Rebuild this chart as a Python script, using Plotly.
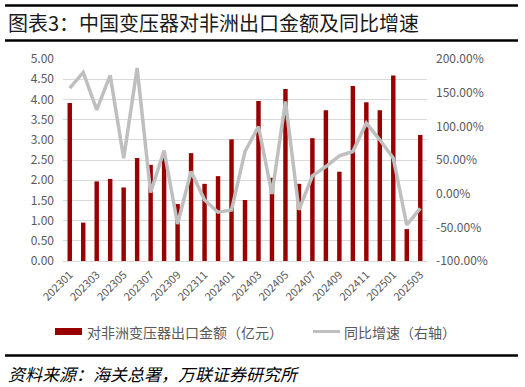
import plotly.graph_objects as go

months = ["202301","202302","202303","202304","202305","202306","202307","202308","202309",
          "202310","202311","202312","202401","202402","202403","202404","202405","202406",
          "202407","202408","202409","202410","202411","202412","202501","202502","202503"]
export_value = [3.91, 0.95, 1.97, 2.03, 1.82, 2.55, 2.38, 2.55, 1.41,
                2.67, 1.91, 2.10, 3.01, 1.51, 3.96, 2.06, 4.26, 1.91,
                3.04, 3.73, 2.21, 4.33, 3.93, 3.73, 4.59, 0.79, 3.12]
yoy_pct = [156.9, 180.2, 124.6, 175.7, 52.7, 186.6, 1.6, 64.1, -45.0,
           32.9, -9.3, -27.6, -24.1, 62.6, 99.8, -0.4, 137.0, -24.1,
           26.4, 40.3, 56.2, 62.6, 104.8, 80.0, 52.7, -46.5, -21.7]
left_ticks = [0, 0.5, 1, 1.5, 2, 2.5, 3, 3.5, 4, 4.5, 5]
right_ticks = [-100, -50, 0, 50, 100, 150, 200]
x_ticks = months[::2]
bar_name = "对非洲变压器出口金额（亿元）"
line_name = "同比增速（右轴）"

FONT = "Noto Sans CJK SC"
BAR_C = "#990000"
LINE_C = "#BFBFBF"
L, R, T, B = 63, 98, 59, 126
W, H = 525, 387
PW, PH = W - L - R, H - T - B


def px_x(x):
    return (x - L) / PW


def px_y(y):
    return (H - B - y) / PH


fig = go.Figure()
fig.add_trace(go.Bar(x=months, y=export_value, name=bar_name,
                     marker=dict(color=BAR_C, line=dict(width=0)), yaxis="y"))
fig.add_trace(go.Scatter(x=months, y=yoy_pct, name=line_name, mode="lines",
                         line=dict(color=LINE_C, width=3.5), yaxis="y2"))

fig.update_layout(
    width=W, height=H,
    margin=dict(l=L, r=R, t=T, b=B, autoexpand=False),
    paper_bgcolor="white", plot_bgcolor="white",
    bargap=0.67,
    font=dict(family=FONT, color="#595959", size=12),
    showlegend=False,
    xaxis=dict(type="category", tickmode="array", tickvals=x_ticks, ticktext=x_ticks,
               tickangle=-45, tickfont=dict(size=11, color="#595959"), showgrid=False,
               showline=True, linecolor="#D9D9D9", ticks="", ticklabelstandoff=2),
    yaxis=dict(range=[0, 5], tickvals=left_ticks,
               ticktext=[f"{v:.2f}" for v in left_ticks], showgrid=True,
               gridcolor="#D9D9D9", gridwidth=1, zeroline=False, ticks="",
               ticklabelstandoff=8,
               tickfont=dict(size=12, color="#595959")),
    yaxis2=dict(range=[-100, 200], tickvals=right_ticks,
                ticktext=[f"{v:.2f}%" for v in right_ticks], overlaying="y", side="right",
                showgrid=False, zeroline=False, ticks="", ticklabelstandoff=8,
                tickfont=dict(size=12, color="#595959")),
)

# title, source and rules
fig.add_annotation(text="图表3：中国变压器对非洲出口金额及同比增速", xref="paper", yref="paper",
                   x=px_x(6), y=px_y(22), xanchor="left", yanchor="middle",
                   showarrow=False, font=dict(size=20, color="#1a1a1a", family=FONT))
fig.add_annotation(text="<i>资料来源：海关总署，万联证券研究所</i>", xref="paper", yref="paper",
                   x=px_x(6), y=px_y(373), xanchor="left", yanchor="middle",
                   showarrow=False, font=dict(size=17, color="#000000", family=FONT))
for ypix in [5.5, 40.5, 355.5]:
    fig.add_shape(type="line", xref="paper", yref="paper",
                  x0=px_x(5), x1=px_x(518), y0=px_y(ypix), y1=px_y(ypix),
                  line=dict(color="#000000", width=2.5))

# legend
fig.add_shape(type="rect", xref="paper", yref="paper", x0=px_x(55), x1=px_x(82),
              y0=px_y(335), y1=px_y(328), fillcolor=BAR_C, line=dict(width=0))
fig.add_annotation(text=bar_name, xref="paper", yref="paper", x=px_x(85), y=px_y(331.5),
                   xanchor="left", yanchor="middle", showarrow=False,
                   font=dict(size=14, color="#595959", family=FONT))
fig.add_shape(type="line", xref="paper", yref="paper", x0=px_x(313), x1=px_x(340),
              y0=px_y(331.5), y1=px_y(331.5), line=dict(color=LINE_C, width=3))
fig.add_annotation(text=line_name, xref="paper", yref="paper", x=px_x(342), y=px_y(331.5),
                   xanchor="left", yanchor="middle", showarrow=False,
                   font=dict(size=14, color="#595959", family=FONT))

fig.write_html("out.html", config={"displayModeBar": False},
               post_script="document.body.style.margin='0px';")
